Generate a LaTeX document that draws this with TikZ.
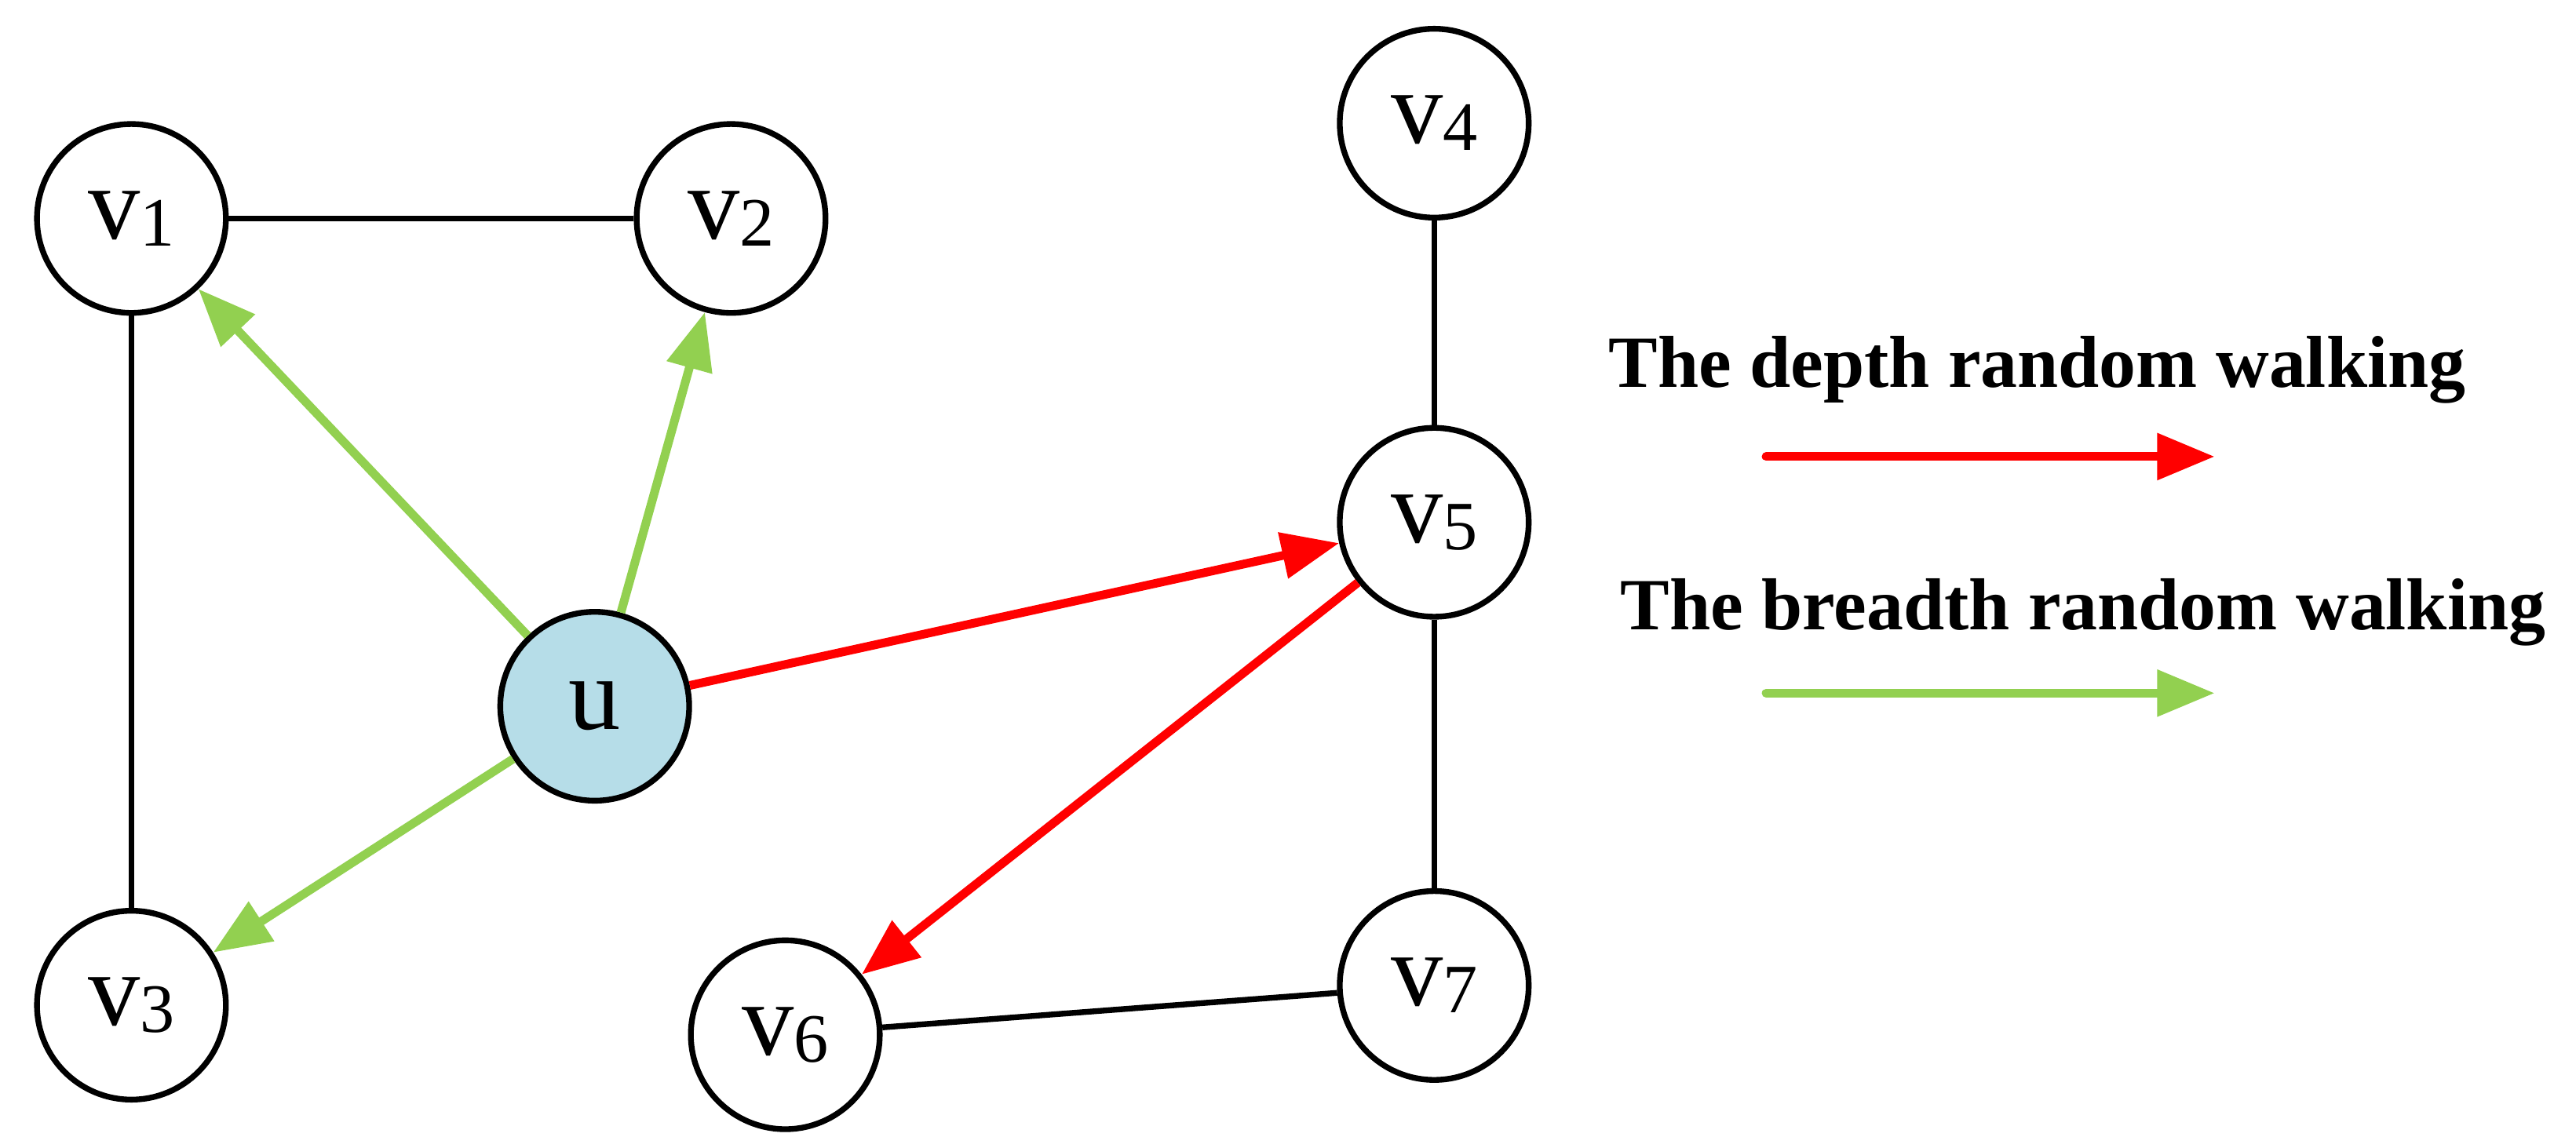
\documentclass[tikz,border=0pt]{standalone}
\usepackage{fontspec}
\setmainfont{Liberation Serif}
\usetikzlibrary{arrows.meta}
\begin{document}
\begin{tikzpicture}[x=0.02cm,y=-0.02cm,
  vn/.style={circle,draw,line width=2pt,minimum size=2.3cm,inner sep=0pt,font=\fontsize{36}{36}\selectfont},
  edge/.style={line width=2pt},
  walk/.style={line width=3pt,-{Triangle[length=0.7cm,width=0.55cm]}},
  leg/.style={font=\fontsize{25.5}{25.5}\selectfont\bfseries}]
\useasboundingbox (0,0) rectangle (1568,698.5);
\definecolor{gr}{RGB}{146,208,80}
\definecolor{ub}{RGB}{182,221,232}
\newcommand{\lab}[1]{v\raisebox{-0.15ex}{\fontsize{24}{24}\selectfont #1}}
\node[vn] (v1) at (80,133) {\lab1};
\node[vn] (v2) at (445,133) {\lab2};
\node[vn] (v4) at (873,75) {\lab4};
\node[vn] (v5) at (873,318) {\lab5};
\node[vn,fill=ub] (u) at (362,430) {u};
\node[vn] (v3) at (80,612) {\lab3};
\node[vn] (v6) at (478,630) {\lab6};
\node[vn] (v7) at (873,600) {\lab7};
\draw[edge] (v1)--(v2); \draw[edge] (v1)--(v3);
\draw[edge] (v4)--(v5); \draw[edge] (v5)--(v7); \draw[edge] (v6)--(v7);
\draw[walk,gr] (u)--(v1); \draw[walk,gr] (u)--(v2); \draw[walk,gr] (u)--(v3);
\draw[walk,red] (u)--(v5); \draw[walk,red] (v5)--(v6);
\node[leg] (t1) at (1240,225) {The depth random walking};
\node[leg] (t2) at (1268,373) {The breadth random walking};
\coordinate (a1) at (1075,278); \coordinate (b1) at (1348,278);
\coordinate (a2) at (1075,422); \coordinate (b2) at (1348,422);
\draw[walk,red,line cap=round] (a1)--(b1);
\draw[walk,gr,line cap=round] (a2)--(b2);
\end{tikzpicture}
\end{document}
